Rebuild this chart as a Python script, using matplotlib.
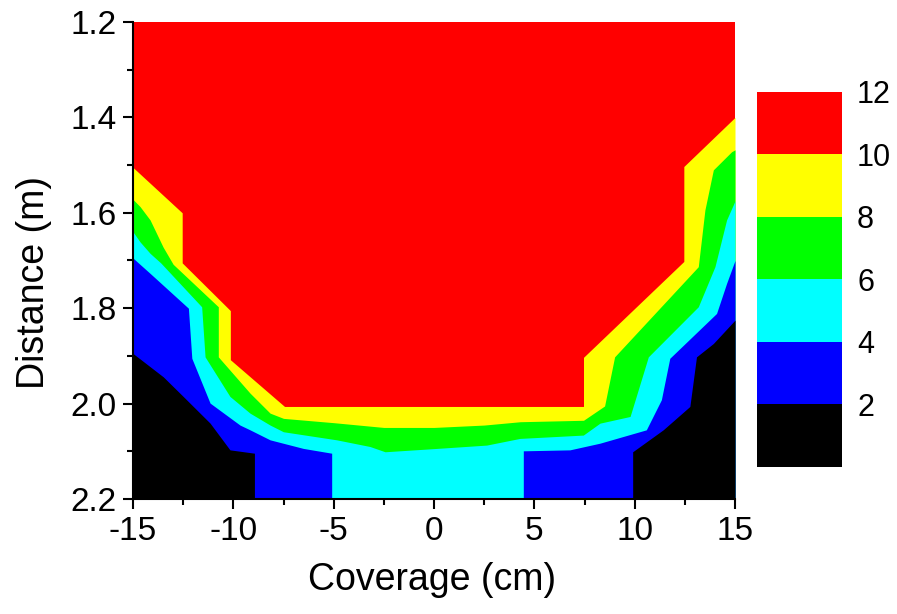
import matplotlib
matplotlib.use('Agg')
import matplotlib.pyplot as plt
import numpy as np
from matplotlib.colors import ListedColormap, BoundaryNorm
from matplotlib.cm import ScalarMappable
from matplotlib.ticker import FormatStrFormatter

plt.rcParams['font.family'] = ['Liberation Sans', 'DejaVu Sans']
plt.rcParams['axes.unicode_minus'] = False

# contour levels and fill colours (lowest band first)
levels = [0, 2, 4, 6, 8, 10, 12]
colors = ['#000000', '#0000ff', '#00ffff', '#00ff00', '#ffff00', '#ff0000']

# contour lines: coverage (cm) vs distance (m)
x10 = [-15, -12.55, -12.55, -10.15, -10.15, -7.45, 7.45, 7.45, 12.45, 12.45, 15]
y10 = [1.505, 1.600, 1.705, 1.805, 1.908, 2.006, 2.006, 1.903, 1.702, 1.503, 1.400]

x8 = [-15, -14.65, -14.15, -13.5, -13.0, -10.75, -10.75, -9.17, -8.17, -7.5,
      -5, -2.5, 0, 2.5, 4.3, 7.45, 8.5, 9.0, 13.17, 13.5, 13.92, 14.83, 15]
y8 = [1.572, 1.587, 1.615, 1.672, 1.708, 1.797, 1.902, 1.978, 2.020, 2.031,
      2.040, 2.050, 2.050, 2.045, 2.038, 2.035, 2.005, 1.902, 1.713, 1.594, 1.510, 1.472, 1.468]

x6 = [-15, -14.65, -14.15, -13.62, -11.58, -11.41, -10.17, -9.17, -8.17, -7.51,
      -4.85, -3.19, -2.44, 0.13, 2.62, 4.28, 7.44, 8.27, 9.77, 10.68, 13.17, 14.0, 14.58, 15]
y6 = [1.640, 1.661, 1.685, 1.705, 1.797, 1.902, 1.985, 2.020, 2.045, 2.059,
      2.076, 2.090, 2.101, 2.094, 2.087, 2.073, 2.066, 2.041, 2.027, 1.902, 1.797, 1.713, 1.615, 1.575]

x4 = [-15, -14.15, -12.24, -12.07, -11.16, -9.67, -9.17, -8.17, -6.51, -5.1, -5.1,
      4.45, 4.45, 6.77, 8.27, 10.58, 11.33, 11.75, 14.08, 14.58, 15]
y4 = [1.695, 1.727, 1.800, 1.905, 1.999, 2.045, 2.055, 2.076, 2.094, 2.104, 2.2,
      2.2, 2.099, 2.097, 2.083, 2.055, 1.992, 1.905, 1.811, 1.748, 1.700]

x2 = [-15, -13.49, -12.5, -11.16, -10.17, -8.95, -8.95,
      9.9, 9.9, 11.42, 12.75, 13.08, 13.92, 15]
y2 = [1.895, 1.944, 1.985, 2.041, 2.097, 2.104, 2.2,
      2.2, 2.101, 2.055, 2.006, 1.902, 1.874, 1.825]

y_top, y_bottom = 1.2, 2.2

fig = plt.figure(figsize=(8.97, 6.14), dpi=100)
ax = fig.add_axes([0.1483, 0.1873, 0.6711, 0.7769])
ax.set_facecolor(colors[5])

for xs, ys, c in [(x10, y10, colors[4]), (x8, y8, colors[3]), (x6, y6, colors[2]),
                  (x4, y4, colors[1]), (x2, y2, colors[0])]:
    ax.fill_between(xs, ys, y_bottom, color=c, lw=0)

ax.set_xlim(-15, 15)
ax.set_ylim(y_bottom, y_top)
ax.set_xticks(np.arange(-15, 16, 5))
ax.set_xticks(np.arange(-15, 15.1, 2.5), minor=True)
ax.set_yticks(np.arange(1.2, 2.21, 0.2))
ax.set_yticks(np.arange(1.2, 2.21, 0.1), minor=True)
ax.yaxis.set_major_formatter(FormatStrFormatter('%.1f'))
ax.tick_params(which='major', direction='out', length=7, width=1.5, labelsize=24, pad=5)
ax.tick_params(which='minor', direction='out', length=4, width=1.5)
for s in ['top', 'right']:
    ax.spines[s].set_visible(False)
for s in ['left', 'bottom']:
    ax.spines[s].set_linewidth(1.5)

ax.set_xlabel('Coverage (cm)', fontsize=27)
ax.set_ylabel('Distance (m)', fontsize=27)
ax.xaxis.set_label_coords(0.497, -0.133)
ax.yaxis.set_label_coords(-0.135, 0.453)

cax = fig.add_axes([0.8436, 0.2399, 0.0948, 0.6107])
sm = ScalarMappable(norm=BoundaryNorm(levels, len(colors)), cmap=ListedColormap(colors))
cb = fig.colorbar(sm, cax=cax, ticks=levels[1:])
cb.outline.set_visible(False)
cax.minorticks_off()
cax.tick_params(length=0, pad=11, labelsize=22)

fig.savefig('out.png', dpi=100)
